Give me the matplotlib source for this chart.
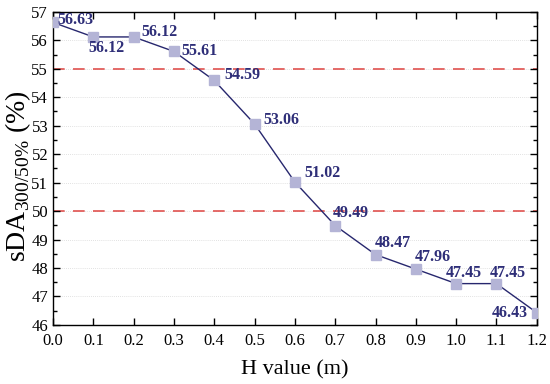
import matplotlib
matplotlib.use("Agg")
import matplotlib.pyplot as plt
from matplotlib.ticker import MultipleLocator

h_values = [0.0, 0.1, 0.2, 0.3, 0.4, 0.5, 0.6, 0.7, 0.8, 0.9, 1.0, 1.1, 1.2]
sda_values = [56.63, 56.12, 56.12, 55.61, 54.59, 53.06, 51.02, 49.49, 48.47, 47.96, 47.45, 47.45, 46.43]
threshold_values = [55, 50]
x_ticks = [0.0, 0.1, 0.2, 0.3, 0.4, 0.5, 0.6, 0.7, 0.8, 0.9, 1.0, 1.1, 1.2]
y_ticks = [46, 47, 48, 49, 50, 51, 52, 53, 54, 55, 56, 57]

# label offsets in pixels (dx, dy up, ha)
label_offsets = [
    (4, 2, 'left'),
    (-5, -11, 'left'),
    (8, 5, 'left'),
    (7, 0, 'left'),
    (10, 5, 'left'),
    (9, 4, 'left'),
    (9, 9, 'left'),
    (-2, 13, 'left'),
    (-1, 12, 'left'),
    (-1, 12, 'left'),
    (8, 11, 'center'),
    (11, 11, 'center'),
    (-9, 0, 'right'),
]

plt.rcParams['font.family'] = ['Liberation Serif', 'DejaVu Serif']
plt.rcParams['mathtext.fontset'] = 'custom'
plt.rcParams['mathtext.rm'] = 'Liberation Serif'

fig = plt.figure(figsize=(5.5, 3.84), dpi=100)
ax = fig.add_axes([0.0964, 0.154, 0.8795, 0.815])

line_color = '#27276e'
marker_color = '#b4b4d6'

for gy in y_ticks:
    ax.axhline(gy, color='#d8d8d8', lw=0.6, ls=(0, (1, 1.5)), zorder=0)
for t in threshold_values:
    ax.axhline(t, color='#e0524f', lw=1.2, ls=(0, (7, 5)), zorder=1)

ax.plot(h_values, sda_values, color=line_color, lw=1.0, marker='s', ms=7,
        mfc=marker_color, mec=marker_color, zorder=3, clip_on=True)

px = 72.0 / 100.0
for x, y, (dx, dy, ha) in zip(h_values, sda_values, label_offsets):
    ax.annotate(f"{y:.2f}", (x, y), xytext=(dx * px, dy * px), textcoords='offset points',
                ha=ha, va='center', fontsize=11.5, fontweight='bold', color='#2e2e78',
                zorder=4, annotation_clip=False)

ax.set_xlim(0.0, 1.2)
ax.set_ylim(46, 57)
ax.set_xticks(x_ticks)
ax.set_xticklabels([f"{v:.1f}" for v in x_ticks])
ax.set_yticks(y_ticks)
ax.yaxis.set_minor_locator(MultipleLocator(0.5))
ax.tick_params(which='both', direction='in', top=True, right=True, labelsize=12)
ax.tick_params(which='major', length=5, width=1)
ax.tick_params(which='minor', length=3, width=1)
ax.tick_params(axis='x', pad=6)
for s in ax.spines.values():
    s.set_linewidth(1.0)

ax.set_xlabel('H value (m)', fontsize=16, labelpad=8)
fig.text(18 / 550, 1 - 176 / 384, r'sDA$_{\mathregular{300/50\%}}$ (%)', fontsize=20,
         rotation=90, ha='center', va='center')

fig.savefig('out.png', dpi=100)
